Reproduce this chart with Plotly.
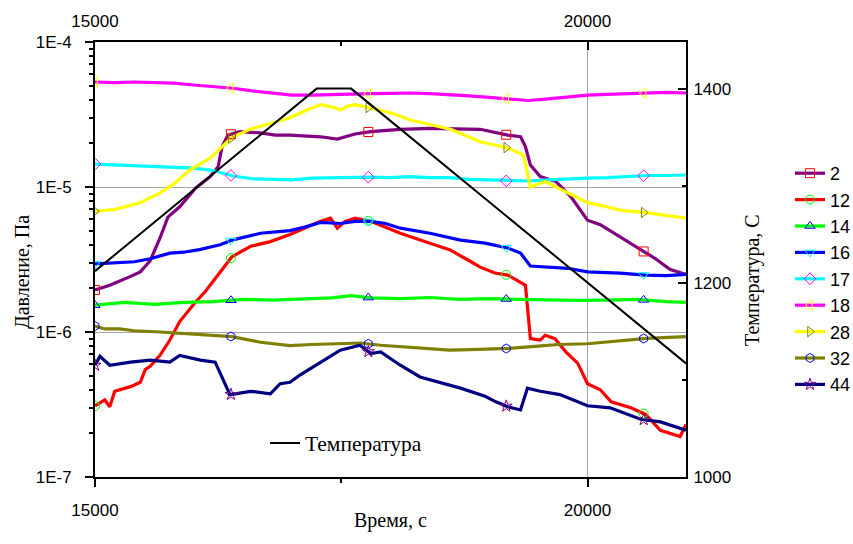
import numpy as np
import plotly.graph_objects as go

# ---------------- data ----------------
series_names = ["2", "12", "14", "16", "17", "18", "28", "32", "44"]

t_2 = [15000, 15150, 15350, 15460, 15560, 15660, 15740, 15860, 16020, 16170, 16250, 16290, 16350, 16470,
       16680, 16830, 16980, 17290, 17460, 17640, 17800, 18100, 18400, 18710, 18910, 19190, 19320, 19370,
       19420, 19520, 19680, 19830, 20000, 20130, 20340, 20540, 20690, 20840, 21000]
p_2 = [1.95e-6, 2.1e-6, 2.4e-6, 2.6e-6, 3.1e-6, 4.45e-6, 6.2e-6, 7.3e-6, 9.8e-6, 1.18e-5, 1.38e-5, 1.9e-5,
       2.28e-5, 2.41e-5, 2.36e-5, 2.28e-5, 2.28e-5, 2.22e-5, 2.14e-5, 2.32e-5, 2.41e-5, 2.5e-5, 2.54e-5,
       2.5e-5, 2.5e-5, 2.28e-5, 2.22e-5, 1.9e-5, 1.42e-5, 1.18e-5, 1.09e-5, 8.6e-6, 5.9e-6, 5.5e-6, 4.5e-6,
       3.7e-6, 3.2e-6, 2.7e-6, 2.5e-6]

t_12 = [15000, 15100, 15150, 15200, 15360, 15460, 15510, 15560, 15660, 15760, 15860, 16010, 16120, 16270,
        16390, 16580, 16780, 16980, 17130, 17290, 17390, 17460, 17540, 17640, 17800, 18100, 18400, 18600,
        18800, 18910, 19060, 19190, 19320, 19370, 19420, 19520, 19570, 19670, 19780, 19900, 20000, 20130,
        20240, 20440, 20590, 20740, 20940, 21000]
p_12 = [3.1e-7, 3.4e-7, 3.05e-7, 3.9e-7, 4.2e-7, 4.5e-7, 5.5e-7, 5.8e-7, 6.9e-7, 8.8e-7, 1.18e-6, 1.58e-6,
        1.9e-6, 2.6e-6, 3.3e-6, 3.9e-6, 4.2e-6, 4.7e-6, 5.2e-6, 5.8e-6, 6.1e-6, 5.2e-6, 5.8e-6, 6.1e-6,
        5.8e-6, 4.8e-6, 4.1e-6, 3.7e-6, 3.1e-6, 2.8e-6, 2.55e-6, 2.47e-6, 2.2e-6, 2.1e-6, 9.0e-7, 8.8e-7,
        9.5e-7, 9.0e-7, 7.3e-7, 6.1e-7, 4.4e-7, 4.0e-7, 3.3e-7, 3.0e-7, 2.7e-7, 2.1e-7, 1.9e-7, 2.3e-7]

t_14 = [15000, 15300, 15600, 15900, 16200, 16500, 16800, 17100, 17400, 17600, 17800, 18100, 18400, 18700,
        19000, 19300, 19600, 19900, 20200, 20500, 20800, 21000]
p_14 = [1.53e-6, 1.6e-6, 1.55e-6, 1.6e-6, 1.62e-6, 1.68e-6, 1.66e-6, 1.7e-6, 1.72e-6, 1.78e-6, 1.72e-6,
        1.7e-6, 1.73e-6, 1.68e-6, 1.7e-6, 1.68e-6, 1.66e-6, 1.65e-6, 1.66e-6, 1.68e-6, 1.62e-6, 1.6e-6]

t_16 = [15000, 15200, 15400, 15560, 15760, 15900, 16060, 16270, 16390, 16680, 16980, 17130, 17290, 17490,
        17640, 17800, 17950, 18100, 18400, 18710, 18960, 19190, 19320, 19420, 19620, 19800, 20000, 20330,
        20590, 20800, 21000]
p_16 = [2.95e-6, 3.0e-6, 3.05e-6, 3.2e-6, 3.5e-6, 3.55e-6, 3.7e-6, 4.0e-6, 4.3e-6, 4.8e-6, 5.0e-6, 5.3e-6,
        5.7e-6, 5.6e-6, 5.8e-6, 5.8e-6, 5.6e-6, 5.2e-6, 4.8e-6, 4.3e-6, 4.1e-6, 3.8e-6, 3.5e-6, 2.85e-6,
        2.8e-6, 2.75e-6, 2.6e-6, 2.55e-6, 2.47e-6, 2.45e-6, 2.5e-6]

t_17 = [15000, 15200, 15400, 15600, 15800, 16000, 16200, 16300, 16400, 16600, 16800, 17000, 17200, 17400,
        17600, 17800, 18000, 18200, 18400, 18600, 18800, 19000, 19200, 19400, 19600, 19800, 20000, 20200,
        20400, 20600, 20800, 21000]
p_17 = [1.44e-5, 1.42e-5, 1.40e-5, 1.39e-5, 1.37e-5, 1.35e-5, 1.30e-5, 1.25e-5, 1.19e-5, 1.14e-5, 1.13e-5,
        1.12e-5, 1.15e-5, 1.16e-5, 1.17e-5, 1.17e-5, 1.16e-5, 1.18e-5, 1.16e-5, 1.16e-5, 1.13e-5, 1.12e-5,
        1.10e-5, 1.10e-5, 1.12e-5, 1.14e-5, 1.15e-5, 1.16e-5, 1.18e-5, 1.20e-5, 1.20e-5, 1.21e-5]

t_18 = [15000, 15200, 15400, 15600, 15800, 16000, 16200, 16400, 16600, 16800, 17000, 17200, 17400, 17600,
        17800, 18000, 18200, 18400, 18600, 18800, 19000, 19200, 19400, 19600, 19800, 20000, 20200, 20400,
        20600, 20800, 21000]
p_18 = [5.3e-5, 5.25e-5, 5.3e-5, 5.25e-5, 5.2e-5, 5.05e-5, 4.95e-5, 4.8e-5, 4.6e-5, 4.45e-5, 4.3e-5, 4.3e-5,
        4.35e-5, 4.4e-5, 4.4e-5, 4.42e-5, 4.45e-5, 4.4e-5, 4.35e-5, 4.25e-5, 4.15e-5, 4.05e-5, 3.95e-5,
        4.05e-5, 4.15e-5, 4.3e-5, 4.35e-5, 4.4e-5, 4.45e-5, 4.5e-5, 4.45e-5]

t_28 = [15000, 15200, 15460, 15660, 15800, 15960, 16170, 16320, 16390, 16575, 16800, 16980, 17150, 17290,
        17420, 17490, 17560, 17640, 17800, 18000, 18200, 18400, 18610, 18910, 19190, 19350, 19420, 19570,
        19780, 20000, 20200, 20340, 20590, 20800, 21000]
p_28 = [6.8e-6, 7.0e-6, 7.8e-6, 9.1e-6, 1.05e-5, 1.31e-5, 1.58e-5, 2.0e-5, 2.2e-5, 2.5e-5, 2.75e-5, 3.0e-5,
        3.4e-5, 3.7e-5, 3.55e-5, 3.4e-5, 3.6e-5, 3.7e-5, 3.5e-5, 3.25e-5, 2.9e-5, 2.7e-5, 2.5e-5, 2.05e-5,
        1.86e-5, 1.66e-5, 1.0e-5, 1.09e-5, 9.3e-6, 7.8e-6, 7.3e-6, 6.9e-6, 6.65e-6, 6.4e-6, 6.1e-6]

t_32 = [15000, 15100, 15250, 15400, 15660, 15900, 16070, 16390, 16680, 16980, 17200, 17490, 17700, 17900,
        18100, 18400, 18600, 18900, 19200, 19500, 19700, 20000, 20300, 20600, 21000]
p_32 = [1.1e-6, 1.05e-6, 1.05e-6, 1.02e-6, 1.0e-6, 9.8e-7, 9.6e-7, 9.3e-7, 8.5e-7, 8.05e-7, 8.2e-7, 8.3e-7,
        8.4e-7, 8.1e-7, 7.9e-7, 7.7e-7, 7.5e-7, 7.6e-7, 7.7e-7, 8.0e-7, 8.2e-7, 8.3e-7, 8.7e-7, 9.05e-7,
        9.3e-7]

t_44 = [15000, 15050, 15150, 15360, 15560, 15760, 15860, 16070, 16220, 16270, 16370, 16580, 16780, 16880,
        16980, 17080, 17290, 17490, 17690, 17800, 17900, 18100, 18300, 18510, 18710, 18960, 19070, 19190,
        19320, 19390, 19520, 19720, 20000, 20230, 20340, 20540, 20740, 21000]
p_44 = [5.9e-7, 6.8e-7, 5.9e-7, 6.2e-7, 6.4e-7, 6.2e-7, 6.9e-7, 6.4e-7, 6.2e-7, 5.2e-7, 3.7e-7, 3.9e-7,
        3.75e-7, 4.4e-7, 4.5e-7, 5.05e-7, 6.2e-7, 7.5e-7, 8.1e-7, 7.1e-7, 7.3e-7, 5.9e-7, 4.9e-7, 4.5e-7,
        4.1e-7, 3.6e-7, 3.3e-7, 3.05e-7, 2.9e-7, 4.1e-7, 3.9e-7, 3.7e-7, 3.1e-7, 3.0e-7, 2.8e-7, 2.5e-7,
        2.4e-7, 2.1e-7]

temp_t = [15000, 17250, 17600, 21000]
temp_v = [1212, 1400, 1400, 1117]

marker_times = [15000, 16380, 17775, 19175, 20570]

x_ticks = [15000, 20000]
x_minor = [17500]
y_ticks = [1e-7, 1e-6, 1e-5, 1e-4]
y_ticktext = ["1E-7", "1E-6", "1E-5", "1E-4"]
t_ticks = [1000, 1200, 1400]
t_minor = [1100, 1300]
X_RANGE = [15000, 21000]
T_RANGE = [1000, 1448]

# ---------------- styles ----------------
series_t = [t_2, t_12, t_14, t_16, t_17, t_18, t_28, t_32, t_44]
series_p = [p_2, p_12, p_14, p_16, p_17, p_18, p_28, p_32, p_44]
line_colors = ["#800080", "#ff0000", "#00ff00", "#0000ff", "#00ffff", "#ff00ff", "#ffff00", "#808000", "#000080"]
mk_colors = ["#ff0000", "#00ff00", "#0000ff", "#00ffff", "#ff00ff", "#ffff00", "#808000", "#0000ff", "#800080"]
mk_symbols = ["square-open", "circle-open", "triangle-up-open", "triangle-down-open", "diamond-open",
              "triangle-left-open", "triangle-right-open", "hexagon-open", "star-open"]

SANS = "Liberation Sans, Arial, sans-serif"
SERIF = "Liberation Serif, Times New Roman, serif"

fig = go.Figure()

for name, tt, pp, lc in zip(series_names, series_t, series_p, line_colors):
    fig.add_trace(go.Scatter(x=tt, y=pp, mode="lines", line=dict(color=lc, width=3.2),
                             showlegend=False, hoverinfo="skip"))

for name, tt, pp, mc, ms in zip(series_names, series_t, series_p, mk_colors, mk_symbols):
    my = 10 ** np.interp(marker_times, tt, np.log10(pp))
    fig.add_trace(go.Scatter(x=marker_times, y=my, mode="markers",
                             marker=dict(symbol=ms, size=9, color=mc, line=dict(width=1, color=mc)),
                             showlegend=False, hoverinfo="skip"))

# legend entries
for name, lc, mc, ms in zip(series_names, line_colors, mk_colors, mk_symbols):
    fig.add_trace(go.Scatter(x=[None], y=[None], mode="lines+markers", name=name,
                             line=dict(color=lc, width=3.2),
                             marker=dict(symbol=ms, size=9, color=mc, line=dict(width=1, color=mc)),
                             legend="legend"))

# temperature
fig.add_trace(go.Scatter(x=temp_t, y=temp_v, mode="lines", name="Температура", yaxis="y2",
                         line=dict(color="black", width=2), legend="legend2"))

# helper for top axis
fig.add_trace(go.Scatter(x=X_RANGE, y=[None, None], xaxis="x2", yaxis="y", mode="lines",
                         showlegend=False, hoverinfo="skip"))

tickfont = dict(family=SANS, size=17, color="black")

fig.update_layout(
    width=853, height=544,
    margin=dict(l=95, r=167, t=42, b=67, autoexpand=False),
    plot_bgcolor="white", paper_bgcolor="white",
    showlegend=True,
    xaxis=dict(range=X_RANGE, tickvals=x_ticks, ticktext=[str(v) for v in x_ticks],
               ticks="outside", ticklen=8, tickwidth=1.5, tickcolor="black",
               minor=dict(tickvals=x_minor, ticks="outside", ticklen=4, tickwidth=1.5, tickcolor="black",
                          showgrid=False),
               showgrid=True, gridcolor="#a6a6a6", gridwidth=1,
               showline=True, linecolor="black", linewidth=2, zeroline=False,
               tickfont=tickfont, ticklabelstandoff=9, automargin=False),
    xaxis2=dict(range=X_RANGE, overlaying="x", side="top", anchor="y",
                tickvals=x_ticks, ticktext=[str(v) for v in x_ticks],
                ticks="inside", ticklen=8, tickwidth=1.5, tickcolor="black",
                minor=dict(tickvals=x_minor, ticks="inside", ticklen=4, tickwidth=1.5, tickcolor="black",
                           showgrid=False),
                showgrid=False, showline=True, linecolor="black", linewidth=2, zeroline=False,
                tickfont=tickfont, ticklabelstandoff=6, automargin=False),
    yaxis=dict(type="log", range=[-7, -4], tickvals=y_ticks, ticktext=y_ticktext,
               ticks="outside", ticklen=8, tickwidth=1.5, tickcolor="black",
               minor=dict(tickvals=[k * 10.0 ** e for e in (-7, -6, -5) for k in range(2, 10)],
                          ticks="outside", ticklen=4, tickwidth=1.5, tickcolor="black", showgrid=False),
               showgrid=True, gridcolor="#a6a6a6", gridwidth=1,
               showline=True, linecolor="black", linewidth=2, zeroline=False,
               tickfont=tickfont, ticklabelstandoff=10, automargin=False),
    yaxis2=dict(range=T_RANGE, overlaying="y", side="right", anchor="x",
                tickvals=t_ticks, ticks="inside", ticklen=8, tickwidth=1.5, tickcolor="black",
                minor=dict(tickvals=t_minor, ticks="inside", ticklen=4, tickwidth=1.5, tickcolor="black",
                           showgrid=False),
                showgrid=False, showline=True, linecolor="black", linewidth=2, zeroline=False,
                tickfont=tickfont, ticklabelstandoff=2, automargin=False),
    legend=dict(xanchor="left", yanchor="top", xref="paper", yref="paper",
                font=dict(family=SANS, size=18, color="black"), bgcolor="rgba(0,0,0,0)",
                borderwidth=0, tracegroupgap=0),
    legend2=dict(xanchor="left", yanchor="middle",
                 font=dict(family=SERIF, size=21.5, color="black"), bgcolor="rgba(0,0,0,0)",
                 borderwidth=0),
    annotations=[
        dict(text="Давление, Па", x=22, y=272, xref="paper", yref="paper", showarrow=False,
             textangle=-90, font=dict(family=SERIF, size=20, color="black")),
        dict(text="Время, с", x=390, y=520, xref="paper", yref="paper", showarrow=False,
             font=dict(family=SERIF, size=20, color="black")),
        dict(text="Температура, С", x=752, y=280, xref="paper", yref="paper", showarrow=False,
             textangle=-90, font=dict(family=SERIF, size=20, color="black")),
    ],
)

# convert pixel positions to paper coordinates
L, R, T, B = 95, 686, 42, 477
for a in fig.layout.annotations:
    px, py = a.x, a.y
    a.x = (px - L) / (R - L)
    a.y = (B - py) / (B - T)
    a.xanchor = "center"
    a.yanchor = "middle"

fig.layout.legend.y = (B - 155) / (B - T)
fig.layout.legend.x = (790 - L) / (R - L)
fig.layout.legend2.y = (B - 443) / (B - T)
fig.layout.legend2.x = (265 - L) / (R - L)

fig.write_html("out.html", config={"displayModeBar": False},
               post_script="document.body.style.margin='0';document.body.style.padding='0';")
